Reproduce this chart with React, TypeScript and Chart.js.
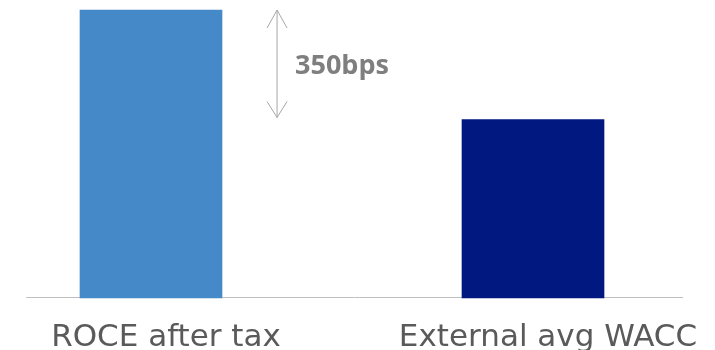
import React, { useEffect, useRef } from "react";
import { Chart, registerables } from "chart.js";

Chart.register(...registerables);

const categories = ["ROCE after tax", "External avg WACC"];
const values = [9.2, 5.7];
const barColors = ["#4589C8", "#001880"];
const gapLabel = "350bps";

const annotationPlugin = {
  id: "gapArrow",
  afterDatasetsDraw(chart: any) {
    const { ctx, scales } = chart;
    const x = scales.x;
    const y = scales.y;
    const ax = x.getPixelForValue(0.33);
    const yTop = y.getPixelForValue(values[0]);
    const yBot = y.getPixelForValue(values[1]) - 2;
    ctx.save();
    ctx.strokeStyle = "#A6A6A6";
    ctx.lineWidth = 1;
    ctx.beginPath();
    ctx.moveTo(ax, yTop);
    ctx.lineTo(ax, yBot);
    ctx.moveTo(ax - 10, yTop + 18);
    ctx.lineTo(ax, yTop);
    ctx.lineTo(ax + 10, yTop + 18);
    ctx.moveTo(ax - 10, yBot - 16);
    ctx.lineTo(ax, yBot);
    ctx.lineTo(ax + 10, yBot - 16);
    ctx.stroke();
    ctx.fillStyle = "#7F7F7F";
    ctx.font = "bold 27px 'Open Sans'";
    ctx.textBaseline = "middle";
    ctx.textAlign = "left";
    ctx.fillText(gapLabel, ax + 18, (yTop + yBot) / 2 + 3);
    ctx.restore();
  },
  beforeDatasetsDraw(chart: any) {
    const { ctx, scales } = chart;
    const x = scales.x;
    const y = scales.y;
    const y0 = Math.round(y.getPixelForValue(0)) - 0.5;
    ctx.save();
    ctx.strokeStyle = "#BFBFBF";
    ctx.lineWidth = 1;
    ctx.beginPath();
    ctx.moveTo(x.getPixelForValue(-0.327), y0);
    ctx.lineTo(x.getPixelForValue(1.393), y0);
    ctx.stroke();
    ctx.restore();
  },
};

export default function App() {
  const ref = useRef<HTMLCanvasElement | null>(null);
  useEffect(() => {
    document.body.style.margin = "0";
    if (!ref.current) return;
    const chart = new Chart(ref.current, {
      type: "bar",
      data: {
        labels: categories,
        datasets: [
          {
            data: values,
            backgroundColor: barColors,
            borderWidth: 0,
            barThickness: 142,
            clip: false as any,
          },
        ],
      },
      options: {
        animation: false,
        responsive: false,
        layout: { padding: { left: 151, right: 182, top: 10, bottom: -21 } },
        plugins: { legend: { display: false }, tooltip: { enabled: false } },
        scales: {
          x: {
            offset: false,
            grid: { display: false },
            border: { display: false },
            ticks: {
              color: "#5A5A5A",
              font: { family: "'DejaVu Sans'", size: 31 },
              labelOffset: 15,
              padding: 14,
              maxRotation: 0,
              autoSkip: false,
            },
          },
          y: {
            display: false,
            min: 0,
            max: 9.2,
          },
        },
      },
      plugins: [annotationPlugin],
    });
    return () => chart.destroy();
  }, []);
  return (
    <div style={{ width: 715, height: 350 }}>
      <canvas ref={ref} width={715} height={350} style={{ display: "block" }} />
    </div>
  );
}
